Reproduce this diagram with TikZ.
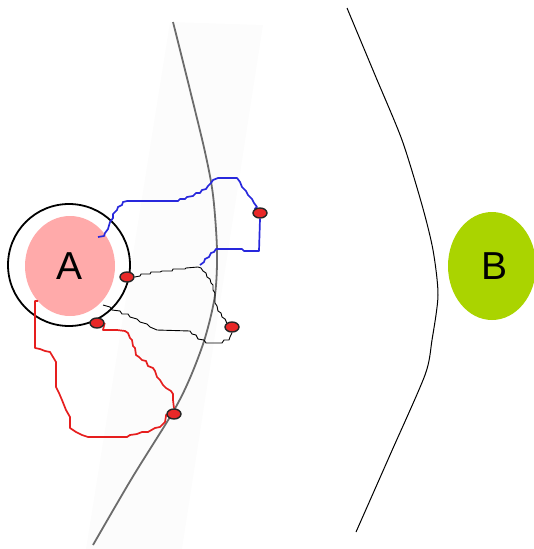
\documentclass[tikz,border=0pt]{standalone}
\usepackage{fontspec}
\setmainfont{Liberation Sans}
\usetikzlibrary{shapes.geometric}
\pgfdeclarelayer{bottom}
\pgfdeclarelayer{paths}
\pgfsetlayers{bottom,paths,main}
\definecolor{pinkA}{RGB}{255,170,170}
\definecolor{greenB}{RGB}{170,212,0}
\definecolor{dotred}{RGB}{232,40,40}
\definecolor{pathred}{RGB}{230,30,30}
\definecolor{pathblue}{RGB}{40,40,220}
\definecolor{bandgray}{RGB}{252,252,252}
\tikzset{
  dotnode/.style={ellipse, draw=black!85, line width=1.4pt, fill=dotred, minimum width=14pt, minimum height=10pt, inner sep=0pt},
  bluepath/.style={pathblue, line width=1.7pt, line join=round},
  redpath/.style={pathred, line width=1.7pt, line join=round},
  blackpath/.style={black, line width=0.9pt, line join=round},
  bigletter/.style={font=\fontsize{39}{41}\selectfont, text=black}
}
\begin{document}
\begin{tikzpicture}[x=1pt,y=-1pt]
\useasboundingbox (0,0) rectangle (534,549);
% dots
\node[dotnode] (d1) at (127,277) {};
\node[dotnode] (d2) at (97,323) {};
\node[dotnode] (d3) at (174,414) {};
\node[dotnode] (d4) at (260,213) {};
\node[dotnode] (d5) at (232,327) {};
\coordinate (b0) at (98,237);
\coordinate (b9) at (200,265);
\coordinate (k0) at (103,305);
\coordinate (r0) at (38,301);
\begin{pgfonlayer}{bottom}
% faint band
\fill[bandgray] (170,22) -- (263,25) -- (182,549) -- (86,549) -- cycle;
% grey curve
\draw[gray!85!black, line width=1.8pt] plot[smooth, tension=0.5] coordinates {(173,22) (190,90) (205,152) (213,195) (217,250) (215,295) (205,338) (190,378) (173,412) (132,478) (93,545)};
% right black curve
\draw[black, line width=1pt] plot[smooth, tension=0.45] coordinates {(347,8) (375,75) (402,140) (422,205) (433,250) (438,295) (432,340) (425,375) (390,455) (356,532)};
% A circle and ellipses
\draw[black, line width=1.8pt] (69,265) circle (61);
\node[ellipse, fill=pinkA, minimum width=90pt, minimum height=100pt, inner sep=0pt] (A) at (70,266) {};
\node[bigletter] (Alabel) at (A.center) {A};
\node[ellipse, fill=greenB, minimum width=88pt, minimum height=108pt, inner sep=0pt] (B) at (492,266) {};
\node[bigletter] (Blabel) at ([xshift=3pt]B.center) {B};
\end{pgfonlayer}
\begin{pgfonlayer}{paths}
% blue path
\draw[bluepath] (b0) -- (104,236) -- (105,233) -- (108,229) -- (110,222) -- (113,218) -- (113,214) -- (117,210) -- (118,207) -- (122,205) -- (123,202) -- (127,201) -- (178,201) -- (180,199) -- (185,199) -- (187,197) -- (193,196) -- (196,193) -- (200,193) -- (202,190) -- (206,189) -- (208,186) -- (211,183) -- (213,180) -- (218,178) -- (237,178) -- (240,182) -- (242,187) -- (246,191) -- (248,195) -- (252,199) -- (254,203) -- (257,207) -- (d4.north west);
\draw[bluepath] (d4.south) -- (259,251) -- (244,251) -- (242,249) -- (216,249) -- (214,252) -- (211,253) -- (209,257) -- (205,259) -- (204,262) -- (b9);
% black paths
\draw[blackpath] (d1.east) -- (140,276) -- (141,274) -- (150,274) -- (151,272) -- (160,272) -- (162,271) -- (172,271) -- (173,269) -- (185,269) -- (186,268) -- (198,267) -- (201,268) -- (203,271) -- (206,273) -- (207,277) -- (210,279) -- (211,283) -- (213,285) -- (213,290) -- (215,293) -- (215,303) -- (217,306) -- (218,311) -- (221,313) -- (222,317) -- (225,319) -- (226,321) -- (d5.north west);
\draw[blackpath] (k0) -- (110,307) -- (112,310) -- (120,311) -- (122,314) -- (128,314) -- (130,317) -- (137,319) -- (140,322) -- (147,324) -- (150,327) -- (157,330) -- (190,331) -- (192,334) -- (196,335) -- (198,339) -- (204,340) -- (206,343) -- (222,343) -- (224,340) -- (229,340) -- (230,337) -- (d5.south);
% red paths
\draw[redpath] (r0) -- (35,301) -- (35,348) -- (40,349) -- (45,351) -- (50,352) -- (53,357) -- (56,362) -- (56,387) -- (59,393) -- (62,400) -- (66,410) -- (70,417) -- (70,428) -- (76,432) -- (82,435) -- (88,437) -- (127,437) -- (130,435) -- (137,434) -- (142,432) -- (148,432) -- (155,428) -- (160,427) -- (165,422) -- (d3.west);
\draw[redpath] (d2.east) -- (103,330) -- (117,330) -- (125,331) -- (128,333) -- (130,338) -- (132,340) -- (133,346) -- (135,348) -- (136,355) -- (139,357) -- (142,360) -- (146,361) -- (148,366) -- (153,368) -- (155,371) -- (157,377) -- (160,380) -- (163,385) -- (166,388) -- (171,391) -- (173,394) -- (173,400) -- (d3.north);
\end{pgfonlayer}
\end{tikzpicture}
\end{document}
